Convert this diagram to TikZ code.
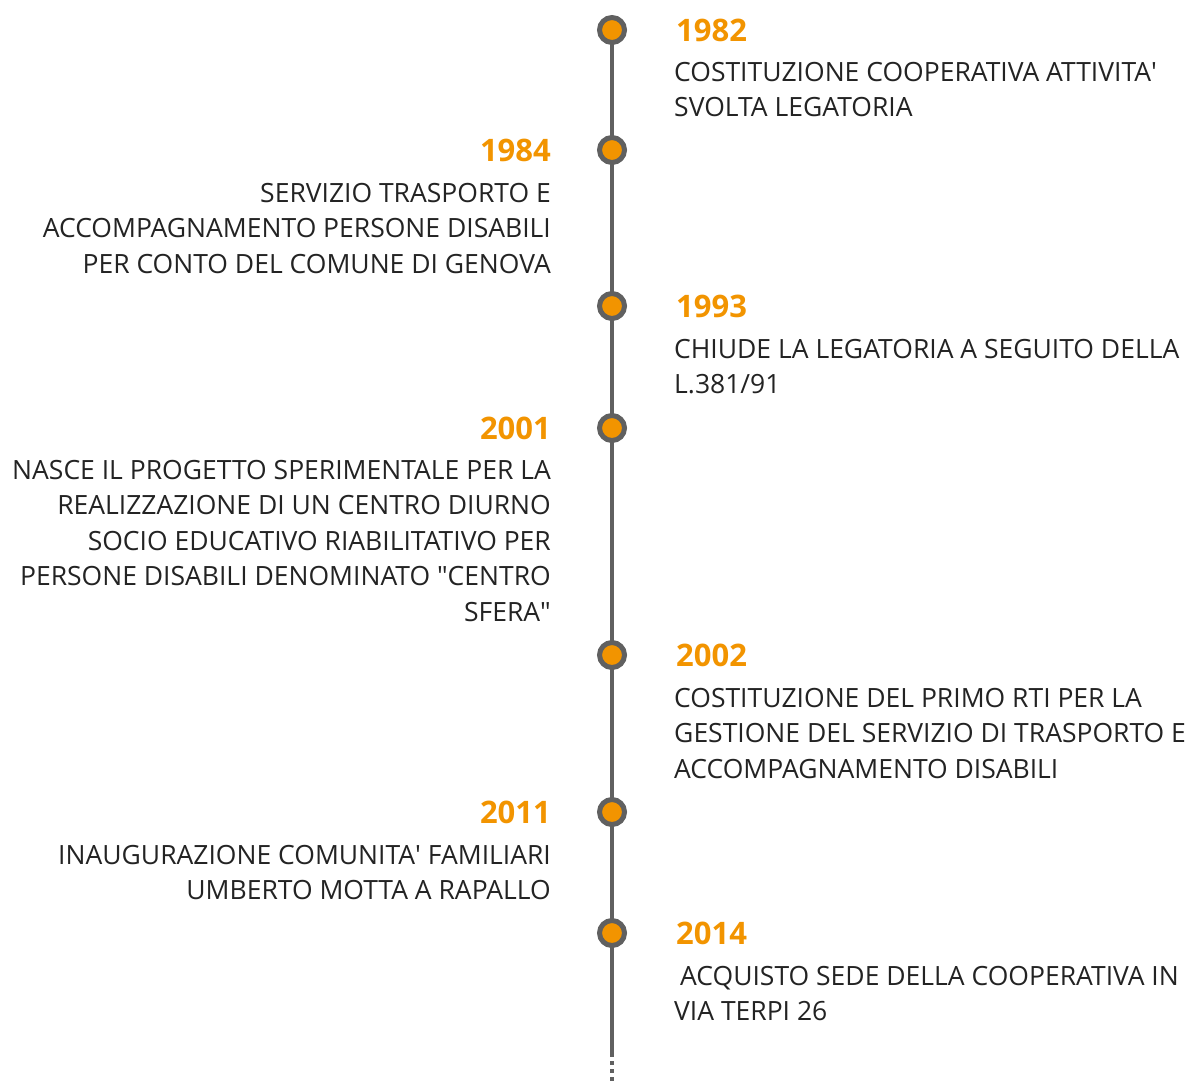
\documentclass[tikz,border=0pt]{standalone}
\usepackage{fontspec}
\setmainfont{Open Sans}
\usepackage{tikz}
\usetikzlibrary{positioning}
\definecolor{yearorange}{RGB}{242,148,0}
\definecolor{axisgray}{RGB}{96,96,96}
\definecolor{textgray}{RGB}{35,35,35}
\tikzstyle{dot} = [circle, draw=axisgray, line width=5pt, fill=yearorange, minimum size=25pt, inner sep=0pt]
\tikzstyle{year} = [font=\fontsize{31}{31}\selectfont\bfseries, text=yearorange, inner sep=0pt]
\tikzstyle{event} = [font=\fontsize{26.5}{35.5}\selectfont, text=textgray, inner sep=0pt]

\begin{document}
\begin{tikzpicture}[x=1pt,y=-1pt]
    \useasboundingbox (0,0) rectangle (1190,1082);

        \coordinate (p1982) at (612, 30);
        \coordinate (p1984) at (612, 150);
        \coordinate (p1993) at (612, 306);
        \coordinate (p2001) at (612, 428);
        \coordinate (p2002) at (612, 655);
        \coordinate (p2011) at (612, 812);
        \coordinate (p2014) at (612, 933);
        \coordinate (solidend) at (612, 1053);
        \coordinate (axisend) at (612, 1082);

    \draw[axisgray, line width=4pt] (p1982) -- (solidend);
    \draw[axisgray, line width=4pt, dash pattern=on 4pt off 4pt] (solidend) -- (axisend);

        % base anchor of a wrapped node sits on its last line
        \node[dot] (d1982) at (p1982) {};
        \node[year, anchor=base west] (y1982) at (676, 41) {1982};
        \node[event, anchor=base west, align=left] (e1982) at (674, 116.5) {COSTITUZIONE COOPERATIVA ATTIVITA\textquotesingle\\SVOLTA LEGATORIA};

        \node[dot] (d1984) at (p1984) {};
        \node[year, anchor=base east] (y1984) at (551, 161) {1984};
        \node[event, anchor=base east, align=right] (e1984) at (551, 273) {SERVIZIO TRASPORTO E\\ACCOMPAGNAMENTO PERSONE DISABILI\\PER CONTO DEL COMUNE DI GENOVA};

        \node[dot] (d1993) at (p1993) {};
        \node[year, anchor=base west] (y1993) at (676, 317) {1993};
        \node[event, anchor=base west, align=left] (e1993) at (674, 393.5) {CHIUDE LA LEGATORIA A SEGUITO DELLA\\L.381/91};

        \node[dot] (d2001) at (p2001) {};
        \node[year, anchor=base east] (y2001) at (551, 439) {2001};
        \node[event, anchor=base east, align=right] (e2001) at (551, 621) {NASCE IL PROGETTO SPERIMENTALE PER LA\\REALIZZAZIONE DI UN CENTRO DIURNO\\SOCIO EDUCATIVO RIABILITATIVO PER\\PERSONE DISABILI DENOMINATO \textquotedbl CENTRO\\SFERA\textquotedbl};

        \node[dot] (d2002) at (p2002) {};
        \node[year, anchor=base west] (y2002) at (676, 666) {2002};
        \node[event, anchor=base west, align=left] (e2002) at (674, 778) {COSTITUZIONE DEL PRIMO RTI PER LA\\GESTIONE DEL SERVIZIO DI TRASPORTO E\\ACCOMPAGNAMENTO DISABILI};

        \node[dot] (d2011) at (p2011) {};
        \node[year, anchor=base east] (y2011) at (551, 823) {2011};
        \node[event, anchor=base east, align=right] (e2011) at (551, 899.5) {INAUGURAZIONE COMUNITA\textquotesingle\ FAMILIARI\\UMBERTO MOTTA A RAPALLO};

        \node[dot] (d2014) at (p2014) {};
        \node[year, anchor=base west] (y2014) at (676, 944) {2014};
        \node[event, anchor=base west, align=left] (e2014) at (674, 1020.5) {\hspace{6pt}ACQUISTO SEDE DELLA COOPERATIVA IN\\VIA TERPI 26};

\end{tikzpicture}
\end{document}
